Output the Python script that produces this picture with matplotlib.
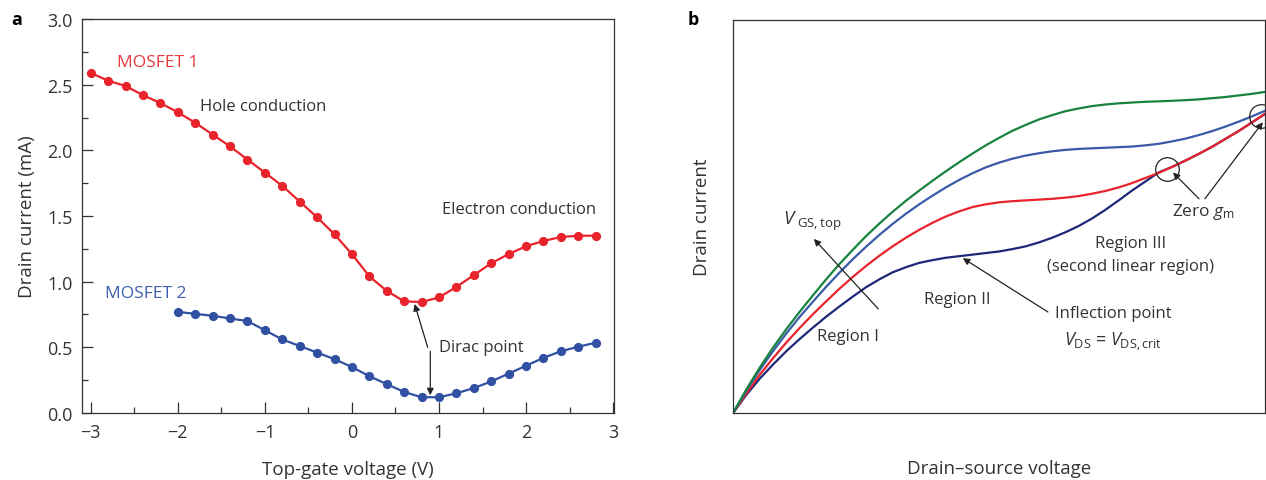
import matplotlib
matplotlib.use("Agg")
import matplotlib.pyplot as plt
import numpy as np

plt.rcParams['font.family'] = ['Open Sans', 'DejaVu Sans']
plt.rcParams['mathtext.fontset'] = 'custom'
plt.rcParams['mathtext.rm'] = 'Open Sans'
plt.rcParams['mathtext.it'] = 'Open Sans:italic'

# --- panel a data: drain current vs top-gate voltage ---
vg_1 = np.round(np.arange(-3.0, 2.81, 0.2), 1)
id_1 = [2.59, 2.53, 2.49, 2.42, 2.36, 2.29, 2.21, 2.12, 2.03, 1.93,
        1.83, 1.73, 1.61, 1.49, 1.36, 1.21, 1.04, 0.93, 0.85, 0.845,
        0.88, 0.96, 1.05, 1.14, 1.21, 1.27, 1.31, 1.34, 1.35, 1.35]
vg_2 = np.round(np.arange(-2.0, 2.81, 0.2), 1)
id_2 = [0.77, 0.755, 0.74, 0.72, 0.70, 0.63, 0.56, 0.51, 0.46, 0.41,
        0.35, 0.28, 0.22, 0.16, 0.12, 0.12, 0.15, 0.19, 0.24, 0.30,
        0.36, 0.42, 0.47, 0.505, 0.535]

# --- panel b data: schematic output curves (arbitrary units) ---
vds = np.arange(0, 100.1, 2.5)
i_green = [0, 6.0, 11.5, 16.6, 21.3, 25.7, 29.9, 34.0, 37.9, 41.5,
           45.0, 48.2, 51.2, 54.0, 56.6, 59.1, 61.5, 63.8, 66.0, 68.1,
           70.0, 71.8, 73.3, 74.7, 75.8, 76.8, 77.5, 78.1, 78.5, 78.8,
           79.0, 79.2, 79.3, 79.45, 79.6, 79.8, 80.1, 80.4, 80.8, 81.2, 81.7]
i_blue = [0, 5.6, 10.9, 15.7, 20.2, 24.4, 28.3, 32.1, 35.7, 39.1,
          42.3, 45.3, 48.1, 50.7, 53.1, 55.3, 57.4, 59.3, 61.0, 62.5,
          63.7, 64.7, 65.5, 66.1, 66.6, 66.95, 67.2, 67.35, 67.5, 67.65,
          67.8, 68.1, 68.5, 69.1, 69.8, 70.7, 71.7, 72.85, 74.1, 75.45, 76.9]
i_red = [0, 4.9, 9.7, 13.9, 17.9, 21.6, 25.1, 28.4, 31.6, 34.6,
         37.4, 40.0, 42.4, 44.6, 46.6, 48.4, 50.0, 51.3, 52.4, 53.1,
         53.6, 53.9, 54.1, 54.3, 54.5, 54.8, 55.2, 55.8, 56.5, 57.4,
         58.5, 59.8, 61.1, 62.6, 64.2, 65.9, 67.7, 69.7, 71.7, 73.9, 76.1]
i_navy = [0, 4.6, 8.7, 12.3, 15.7, 18.8, 21.7, 24.5, 27.1, 29.6,
          32.0, 34.0, 35.8, 37.1, 38.2, 38.9, 39.5, 39.9, 40.3, 40.7,
          41.1, 41.7, 42.4, 43.4, 44.6, 46.0, 47.6, 49.5, 51.7, 54.1,
          56.6, 58.9, 61.2, 62.6, 64.2, 65.9, 67.7, 69.7, 71.7, 73.9, 76.1]

RED = '#e8232b'
BLUE = '#3050a2'
TXT = '#333333'
ARROW = dict(arrowstyle='-|>', color='#222222', lw=0.9, mutation_scale=10,
             shrinkA=0, shrinkB=0)

fig = plt.figure(figsize=(12.66, 4.81), dpi=100)

# ---------------- panel a ----------------
ax = fig.add_axes([0.0648, 0.1393, 0.4202, 0.8191])
ax.plot(vg_1, id_1, '-o', color=RED, lw=1.6, ms=5.6, zorder=3)
ax.plot(vg_2, id_2, '-o', color=BLUE, lw=1.6, ms=5.6, zorder=3)
ax.set_xlim(-3.1, 3.01)
ax.set_ylim(0, 3.0)
ax.set_xticks([-3, -2, -1, 0, 1, 2, 3])
ax.set_xticks(np.arange(-2.5, 3, 1.0), minor=True)
ax.set_yticks(np.arange(0, 3.01, 0.5))
ax.set_yticks(np.arange(0.25, 3, 0.5), minor=True)
ax.yaxis.set_major_formatter(matplotlib.ticker.FormatStrFormatter('%.1f'))
ax.tick_params(which='both', direction='in', top=False, right=False,
               labelsize=13, labelcolor=TXT, color=TXT, width=0.9)
ax.tick_params(which='major', length=8, pad=7)
ax.tick_params(which='minor', length=4.5)
for s in ax.spines.values():
    s.set_color(TXT)
    s.set_linewidth(0.9)
ax.set_xlabel('Top-gate voltage (V)', fontsize=13.5, color=TXT, labelpad=14)
ax.set_ylabel('Drain current (mA)', fontsize=13.5, color=TXT, labelpad=8)

ax.text(-2.70, 2.67, 'MOSFET 1', color='#e53a3f', fontsize=12.5, va='center')
ax.text(-1.75, 2.34, 'Hole conduction', color=TXT, fontsize=12, va='center')
ax.text(1.04, 1.55, 'Electron conduction', color=TXT, fontsize=12, va='center')
ax.text(-2.84, 0.91, 'MOSFET 2', color='#3d5fb0', fontsize=12.5, va='center')
ax.text(1.0, 0.50, 'Dirac point', color=TXT, fontsize=12, va='center')
ax.annotate('', xy=(0.72, 0.83), xytext=(0.87, 0.50), arrowprops=ARROW)
ax.annotate('', xy=(0.90, 0.135), xytext=(0.90, 0.47), arrowprops=ARROW)

# ---------------- panel b ----------------
bx = fig.add_axes([0.579, 0.1393, 0.4202, 0.817])
bx.plot(vds, i_navy, color='#1e2878', lw=1.6)
bx.plot(vds, i_red, color=RED, lw=1.6)
bx.plot(vds, i_blue, color='#3a5aa8', lw=1.6)
bx.plot(vds, i_green, color='#17833f', lw=1.6)
bx.set_xlim(0, 100)
bx.set_ylim(0, 100)
bx.set_xticks([])
bx.set_yticks([])
for s in bx.spines.values():
    s.set_color(TXT)
    s.set_linewidth(0.9)
bx.set_xlabel('Drain\u2013source voltage', fontsize=13.5, color=TXT, labelpad=33)
bx.set_ylabel('Drain current', fontsize=13.5, color=TXT, labelpad=16)

# zero-gm circles
bx.plot([81.6, 99.3], [62.1, 75.6], 'o', mfc='none', mec='#222222',
        mew=0.9, ms=17)

bx.text(9.4, 48.9, r'$V_{\ \mathrm{GS,top}}$', color=TXT, fontsize=13.5, va='center')
bx.annotate('', xy=(15.2, 44.3), xytext=(27.3, 26.5), arrowprops=ARROW)
bx.text(21.6, 19.6, 'Region I', color=TXT, fontsize=12, ha='center', va='center')
bx.text(42.1, 29.0, 'Region II', color=TXT, fontsize=12, ha='center', va='center')
bx.annotate('', xy=(43.2, 39.4), xytext=(59.2, 25.7), arrowprops=ARROW)
bx.text(60.5, 25.4, 'Inflection point', color=TXT, fontsize=12, va='center')
bx.text(71.4, 18.4, r'$V_{\mathrm{DS}}$ = $V_{\mathrm{DS,crit}}$', color=TXT,
        fontsize=13, ha='center', va='center')
bx.text(74.8, 43.3, 'Region III', color=TXT, fontsize=12, ha='center', va='center')
bx.text(74.8, 37.4, '(second linear region)', color=TXT, fontsize=12,
        ha='center', va='center')
bx.text(82.5, 51.4, r'Zero $g_{\mathrm{m}}$', color=TXT, fontsize=12.5, va='center')
bx.annotate('', xy=(82.7, 61.2), xytext=(87.6, 54.5), arrowprops=ARROW)
bx.annotate('', xy=(99.6, 74.0), xytext=(88.7, 54.5), arrowprops=ARROW)

# panel letters
fig.text(17 / 1266, 1 - 20 / 481, 'a', fontsize=13, fontweight='bold',
         va='center', ha='center')
fig.text(693 / 1266, 1 - 20 / 481, 'b', fontsize=13, fontweight='bold',
         va='center', ha='center')

fig.savefig('out.png', dpi=100)
